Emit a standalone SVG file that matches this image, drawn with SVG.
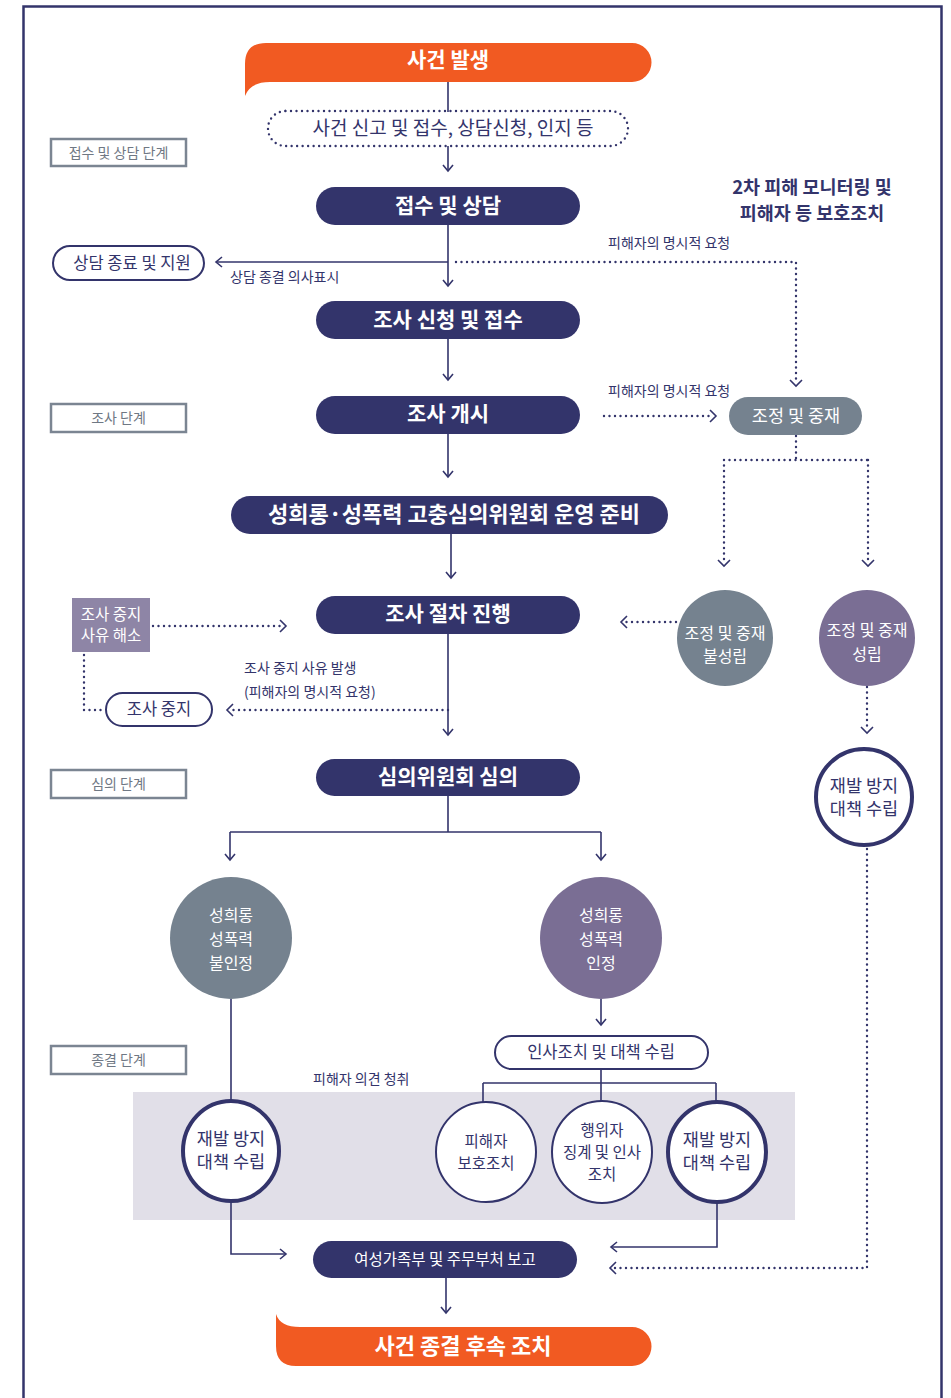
<svg xmlns="http://www.w3.org/2000/svg" width="951" height="1398" viewBox="0 0 951 1398">
<defs>
<style>
text{font-family:"Noto Sans CJK KR","Noto Sans",sans-serif;text-anchor:middle}
.navy{fill:#33346b}
.orange{fill:#f15a22}
.wb{fill:#fff;font-weight:700;font-size:21px}
.wt{fill:#fff;font-size:16px}
.nt{fill:#33346b;font-size:16.5px}
.sm{fill:#33346b;font-size:14px;text-anchor:start}
.stage rect{fill:#fff;stroke:#7b8592;stroke-width:2.5}
.stage text{fill:#6f7884;font-size:14px}
.ln{fill:none;stroke:#33346b;stroke-width:1.6}
.dot{fill:none;stroke:#33346b;stroke-width:2.4;stroke-linecap:round;stroke-dasharray:0 5.5}
.out{fill:#fff;stroke:#33346b;stroke-width:2}
.thick{fill:#fff;stroke:#33346b;stroke-width:4}
</style>
<marker id="ah" markerWidth="12" markerHeight="12" refX="7" refY="6" orient="auto" markerUnits="userSpaceOnUse">
<path d="M1,1 L7,6 L1,11" fill="none" stroke="#33346b" stroke-width="1.6"/>
</marker>
</defs>
<rect width="951" height="1398" fill="#fff"/>
<path d="M23.5,1398 V6.5 H941.5 V1398" fill="none" stroke="#33346b" stroke-width="2.5"/>

<g id="stages" class="stage">
<rect x="51" y="139" width="135" height="27"/><text x="118.5" y="157.5">접수 및 상담 단계</text>
<rect x="51" y="404" width="135" height="28"/><text x="118.5" y="423">조사 단계</text>
<rect x="51" y="770" width="135" height="28"/><text x="118.5" y="789">심의 단계</text>
<rect x="51" y="1046" width="135" height="28"/><text x="118.5" y="1065">종결 단계</text>
</g>

<g id="band"><rect x="133" y="1092" width="662" height="128" fill="#e1dfe8"/></g>

<g id="connectors">
<path class="ln" d="M448,82 V112"/>
<path class="ln" d="M448,146 V171" marker-end="url(#ah)"/>
<path class="ln" d="M448,225 V286" marker-end="url(#ah)"/>
<path class="ln" d="M448,262 H216" marker-end="url(#ah)"/>
<path class="dot" d="M456,262 H796 V384"/>
<path class="ln" d="M790,380 L796,386 L802,380"/>
<path class="ln" d="M448,339 V380" marker-end="url(#ah)"/>
<path class="dot" d="M604,416 H714"/>
<path class="ln" d="M710,410 L716,416 L710,422"/>
<path class="dot" d="M796,436 V460 M724,460 H868 M724,460 V564 M868,460 V564"/>
<path class="ln" d="M718,560 L724,566 L730,560 M862,560 L868,566 L874,560"/>
<path class="ln" d="M448,434 V477" marker-end="url(#ah)"/>
<path class="ln" d="M451,534 V578" marker-end="url(#ah)"/>
<path class="dot" d="M153,626 H284"/>
<path class="ln" d="M280,620 L286,626 L280,632"/>
<path class="dot" d="M84,655 V710 H104"/>
<path class="dot" d="M448,710 H229"/>
<path class="ln" d="M233,704 L227,710 L233,716"/>
<path class="ln" d="M448,634 V735" marker-end="url(#ah)"/>
<path class="dot" d="M676,622 H624"/>
<path class="ln" d="M627,616 L621,622 L627,628"/>
<path class="dot" d="M867,687 V731"/>
<path class="ln" d="M861,727 L867,733 L873,727"/>
<path class="dot" d="M867,849 V1268 H612"/>
<path class="ln" d="M616,1262 L610,1268 L616,1274"/>
<path class="ln" d="M448,796 V832 M230,832 H601"/>
<path class="ln" d="M230,832 V860" marker-end="url(#ah)"/>
<path class="ln" d="M601,832 V860" marker-end="url(#ah)"/>
<path class="ln" d="M231,999 V1102"/>
<path class="ln" d="M601,999 V1025" marker-end="url(#ah)"/>
<path class="ln" d="M601,1069 V1083 M483,1083 H716 M483,1083 V1102 M601,1083 V1102 M716,1083 V1102"/>
<path class="ln" d="M231,1200 V1254 H286" marker-end="url(#ah)"/>
<path class="ln" d="M717,1202 V1247 H611" marker-end="url(#ah)"/>
<path class="ln" d="M446,1278 V1313" marker-end="url(#ah)"/>
</g>

<g id="n-start">
<path class="orange" d="M245,96 V64 Q245,43 266,43 H632 A19.5,19.5 0 0 1 632,82 H270 Q250,82 245,96 Z"/>
<text class="wb" x="448" y="67">사건 발생</text>
</g>
<g id="n-report">
<rect x="268" y="111" width="360" height="35" rx="17.5" fill="#fff" class="dot"/>
<text class="nt" x="453" y="134.5" style="font-size:19px">사건 신고 및 접수, 상담신청, 인지 등</text>
</g>
<g id="n-consult">
<rect class="navy" x="316" y="187" width="264" height="38" rx="19"/>
<text class="wb" x="448" y="213">접수 및 상담</text>
</g>
<g id="n-end-consult">
<rect class="out" x="53" y="246" width="151" height="34" rx="17"/>
<text class="nt" x="132" y="269">상담 종료 및 지원</text>
</g>
<g id="labels">
<text class="sm" x="230" y="282">상담 종결 의사표시</text>
<text class="sm" x="608" y="248">피해자의 명시적 요청</text>
<text class="sm" x="608" y="396">피해자의 명시적 요청</text>
<text class="sm" x="244" y="673">조사 중지 사유 발생</text>
<text class="sm" x="244" y="697">(피해자의 명시적 요청)</text>
<text class="sm" x="313" y="1084">피해자 의견 청취</text>
</g>
<g id="n-title">
<text x="812" y="194" style="fill:#33346b;font-size:18.5px;font-weight:700">2차 피해 모니터링 및</text>
<text x="812" y="220" style="fill:#33346b;font-size:18.5px;font-weight:700">피해자 등 보호조치</text>
</g>
<g id="n-apply">
<rect class="navy" x="316" y="301" width="264" height="38" rx="19"/>
<text class="wb" x="448" y="327">조사 신청 및 접수</text>
</g>
<g id="n-start-inv">
<rect class="navy" x="316" y="396" width="264" height="38" rx="19"/>
<text class="wb" x="448" y="421">조사 개시</text>
</g>
<g id="n-mediation">
<rect x="729" y="397" width="133" height="38" rx="19" fill="#75828f"/>
<text class="wt" x="796" y="422" style="font-size:17.5px">조정 및 중재</text>
</g>
<g id="n-prepare">
<rect class="navy" x="231" y="496" width="437" height="38" rx="19"/>
<text class="wb" x="454" y="522" style="font-size:22px">성희롱·성폭력 고충심의위원회 운영 준비</text>
</g>
<g id="n-proceed">
<rect class="navy" x="316" y="596" width="264" height="38" rx="19"/>
<text class="wb" x="448" y="621">조사 절차 진행</text>
</g>
<g id="n-resolve">
<rect x="72" y="598" width="78" height="54" fill="#8e85a6"/>
<text class="wt" x="111" y="620" style="font-size:15.5px">조사 중지</text>
<text class="wt" x="111" y="641" style="font-size:15.5px">사유 해소</text>
</g>
<g id="n-stop">
<rect class="out" x="106" y="693" width="106" height="33" rx="16.5"/>
<text class="nt" x="159" y="715">조사 중지</text>
</g>
<g id="n-med-fail">
<circle cx="725" cy="638" r="48" fill="#75828f"/>
<text class="wt" x="725" y="639">조정 및 중재</text>
<text class="wt" x="725" y="662">불성립</text>
</g>
<g id="n-med-ok">
<circle cx="867" cy="638" r="48" fill="#7a6e94"/>
<text class="wt" x="867" y="636">조정 및 중재</text>
<text class="wt" x="867" y="660">성립</text>
</g>
<g id="n-prevent-r">
<circle class="thick" cx="864" cy="797" r="48"/>
<text class="nt" x="864" y="792" style="font-size:17.5px">재발 방지</text>
<text class="nt" x="864" y="815" style="font-size:17.5px">대책 수립</text>
</g>
<g id="n-deliberate">
<rect class="navy" x="316" y="759" width="264" height="37" rx="18.5"/>
<text class="wb" x="448" y="784">심의위원회 심의</text>
</g>
<g id="n-notrec">
<circle cx="231" cy="938" r="61" fill="#75828f"/>
<text class="wt" x="231" y="921">성희롱</text>
<text class="wt" x="231" y="945">성폭력</text>
<text class="wt" x="231" y="969">불인정</text>
</g>
<g id="n-rec">
<circle cx="601" cy="938" r="61" fill="#7a6e94"/>
<text class="wt" x="601" y="921">성희롱</text>
<text class="wt" x="601" y="945">성폭력</text>
<text class="wt" x="601" y="969">인정</text>
</g>
<g id="n-personnel">
<rect class="out" x="495" y="1036" width="213" height="33" rx="16.5"/>
<text class="nt" x="601" y="1058">인사조치 및 대책 수립</text>
</g>
<g id="n-prevent-l">
<ellipse class="thick" cx="231" cy="1151" rx="48" ry="50"/>
<text class="nt" x="231" y="1145" style="font-size:17.5px">재발 방지</text>
<text class="nt" x="231" y="1168" style="font-size:17.5px">대책 수립</text>
</g>
<g id="n-victim">
<ellipse class="out" cx="486" cy="1152" rx="50" ry="50"/>
<text class="nt" x="486" y="1147" style="font-size:15.5px">피해자</text>
<text class="nt" x="486" y="1169" style="font-size:15.5px">보호조치</text>
</g>
<g id="n-offender">
<ellipse class="out" cx="602" cy="1152" rx="50" ry="51"/>
<text class="nt" x="602" y="1136" style="font-size:15.5px">행위자</text>
<text class="nt" x="602" y="1158" style="font-size:15.5px">징계 및 인사</text>
<text class="nt" x="602" y="1180" style="font-size:15.5px">조치</text>
</g>
<g id="n-prevent-m">
<ellipse class="thick" cx="717" cy="1152" rx="49" ry="50"/>
<text class="nt" x="717" y="1146" style="font-size:17.5px">재발 방지</text>
<text class="nt" x="717" y="1169" style="font-size:17.5px">대책 수립</text>
</g>
<g id="n-ministry">
<rect class="navy" x="313" y="1241" width="264" height="37" rx="18.5"/>
<text class="wt" x="445" y="1265" style="font-size:15.5px">여성가족부 및 주무부처 보고</text>
</g>
<g id="n-final">
<path class="orange" d="M276,1314 Q280,1327 300,1327 H632 A19.5,19.5 0 0 1 632,1366 H296 Q276,1366 276,1346 Z"/>
<text class="wb" x="463" y="1354" style="font-size:22px">사건 종결 후속 조치</text>
</g>
</svg>
